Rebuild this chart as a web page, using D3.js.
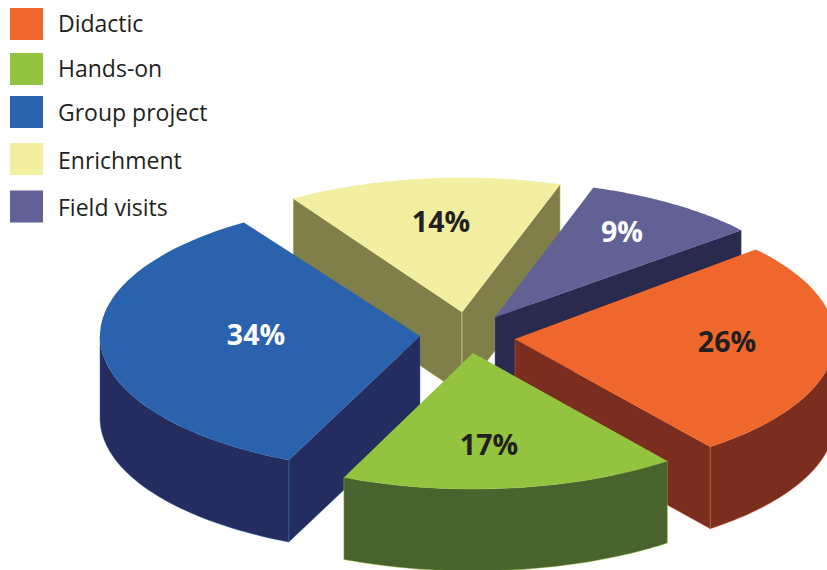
<!DOCTYPE html>
<html>
<head>
<meta charset="utf-8">
<script src="https://cdnjs.cloudflare.com/ajax/libs/d3/7.8.5/d3.min.js"></script>
<style>
html, body { margin: 0; padding: 0; background: #fff; }
svg { display: block; }
text { font-family: "Open Sans", "Noto Sans", sans-serif; }
</style>
</head>
<body>
<script>
// Share of teaching time by activity
const categories = ["Didactic", "Hands-on", "Group project", "Enrichment", "Field visits"];
const shares = [26, 17, 34, 14, 9];

// Styling
const topColors = ["#f0672d", "#93c33f", "#2a62ad", "#f2efa1", "#626196"];
const wallColors = ["#7b2e20", "#49632e", "#252d60", "#807f4a", "#2a2a4f"];
const labelColors = ["#231f20", "#231f20", "#ffffff", "#231f20", "#ffffff"];

// Layout: each exploded slice's point, small per-slice turn and radius, label offset from the point
const apexes = [[515, 339], [473, 353], [420, 336], [462, 312], [495, 317]];
const sliceTurns = [0, 0.2, 0.6, 1.7, 1.5];
const sliceRadii = [320, 320, 320, 316, 320];
const labelOffsets = [[212, 3], [16, 92], [-164, -1], [-21, -90], [127, -85]];
const swatchRows = [24, 69, 112, 159, 206.5];
const textRows = [24, 69, 113, 161, 208];
const paintOrder = [3, 4, 2, 0, 1];

const width = 827, height = 570;
const tilt = 0.425, depth = 82;
const rad = Math.PI / 180;
const startAngle = 48.8 * rad;

const svg = d3.select("body").append("svg")
  .attr("width", width).attr("height", height);

const pie = d3.pie().sort(null).value(d => d)
  .startAngle(startAngle).endAngle(startAngle + 2 * Math.PI);
const slices = pie(shares);

const topLine = d3.line();
const wallArea = d3.area();

const chart = svg.append("g");

paintOrder.forEach(i => {
  const s = slices[i], apex = apexes[i];
  const turn = sliceTurns[i] * rad;
  const a0 = s.startAngle + turn, a1 = s.endAngle + turn;

  // Radial-to-screen projection for the tilted disc
  const projX = d3.scaleLinear().domain([0, 1]).range([0, sliceRadii[i]]);
  const projY = d3.scaleLinear().domain([0, 1]).range([0, sliceRadii[i] * tilt]);
  const rimX = a => apex[0] + projX(Math.sin(a));
  const rimY = a => apex[1] - projY(Math.cos(a));
  const sweep = (from, to) => d3.range(61).map(k => from + (to - from) * k / 60);

  const g = chart.append("g").attr("class", "slice");
  const wallStyle = sel => sel
    .attr("fill", wallColors[i])
    .attr("stroke", topColors[i])
    .attr("stroke-opacity", 0.55)
    .attr("stroke-width", 0.8)
    .attr("stroke-linejoin", "round");

  // Cut faces, only where they turn towards the viewer
  [[a0, -1], [a1, 1]].forEach(([a, side]) => {
    if (side * Math.sin(a) <= 0) return;
    const x = rimX(a), y = rimY(a);
    g.append("path")
      .attr("d", topLine([apex, [x, y], [x, y + depth], [apex[0], apex[1] + depth]]) + "Z")
      .call(wallStyle);
  });

  // Curved outer wall: the front half of the rim only
  const from = Math.max(a0, 90 * rad), to = Math.min(a1, 270 * rad);
  if (to > from) {
    g.append("path")
      .attr("d", wallArea
        .x(a => rimX(a))
        .y0(a => rimY(a))
        .y1(a => rimY(a) + depth)(sweep(from, to)))
      .call(wallStyle);
  }

  // Top face
  const rim = sweep(a0, a1).map(a => [rimX(a), rimY(a)]);
  g.append("path")
    .attr("d", topLine([apex, ...rim]) + "Z")
    .attr("fill", topColors[i]);
});

// Percentage labels
slices.forEach((s, i) => {
  svg.append("text")
    .attr("x", apexes[i][0] + labelOffsets[i][0])
    .attr("y", apexes[i][1] + labelOffsets[i][1])
    .attr("dy", "0.36em")
    .attr("text-anchor", "middle")
    .attr("font-size", 28.5)
    .attr("font-weight", 700)
    .attr("fill", labelColors[i])
    .text(s.value + "%");
});

// Legend
const legend = svg.append("g");
categories.forEach((name, i) => {
  legend.append("rect")
    .attr("x", 10).attr("y", swatchRows[i] - 16)
    .attr("width", 33).attr("height", 32)
    .attr("fill", topColors[i]);
  legend.append("text")
    .attr("x", 58).attr("y", textRows[i])
    .attr("dy", "0.35em")
    .attr("font-size", 23)
    .attr("fill", "#231f20")
    .text(name);
});
</script>
</body>
</html>
